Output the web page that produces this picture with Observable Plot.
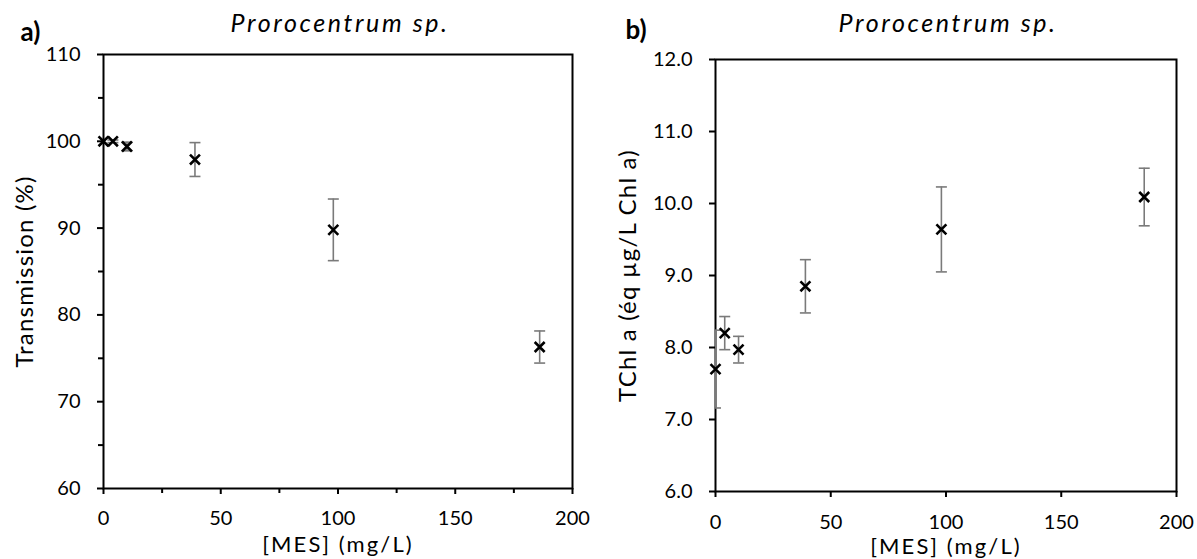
<!DOCTYPE html>
<html><head><meta charset="utf-8">
<script src="https://cdn.jsdelivr.net/npm/d3@7"></script>
<script src="https://cdn.jsdelivr.net/npm/@observablehq/plot@0.6"></script>
<style>
body{margin:0;background:#fff;}
#wrap{display:flex;width:1197px;height:559px;overflow:hidden;}
#wrap svg{font-family: Lato, "Open Sans", sans-serif; overflow:visible;}
</style></head><body><div id="wrap"></div>
<script>
// ---- data ----
const mes = [0, 4, 10, 39, 98, 186];
const transmission = [100, 100, 99.4, 97.9, 89.8, 76.3];
const transmissionErr = [0, 0.15, 0.5, 1.95, 3.55, 1.85];
const tchl = [7.70, 8.20, 7.97, 8.85, 9.64, 10.09];
const tchlErr = [0.54, 0.23, 0.185, 0.37, 0.59, 0.40];
const xTicks = [0, 50, 100, 150, 200];
const xMinorTicksA = [25, 75, 125, 175];
const yTicksA = [60, 70, 80, 90, 100, 110];
const yMinorTicksA = [65, 75, 85, 95, 105];
const yTicksB = [6, 7, 8, 9, 10, 11, 12];
const speciesTitle = "Prorocentrum sp.";
const xLabel = "[MES] (mg/L)";
const yLabelA = "Transmission (%)";
const yLabelB = "TChl a (éq µg/L Chl a)";

const capSymbol = {draw(ctx) { ctx.moveTo(-5.5, 0); ctx.lineTo(5.5, 0); }};
const errColor = "#7a7a7a";

function panel(o) {
  const rows = mes.map((x, i) => ({x, y: o.y[i], lo: o.y[i] - o.err[i], hi: o.y[i] + o.err[i], e: o.err[i]}));
  const eRows = rows.filter(d => d.e > 0);
  const marks = [
    Plot.frame({stroke: "black", strokeWidth: 2}),
    Plot.axisX({ticks: xTicks, tickSize: 6, tickPadding: o.xTickPad, fontSize: 20, strokeWidth: 2, label: null, tickFormat: d => String(d)}),
    Plot.axisY({ticks: o.yTicks, tickSize: 6, tickPadding: 17, fontSize: 20, strokeWidth: 2, label: null, tickFormat: o.fmt}),
  ];
  if (o.xMinor) marks.push(Plot.axisX({ticks: o.xMinor, tickSize: 5, strokeWidth: 2, text: null, label: null}));
  if (o.yMinor) marks.push(Plot.axisY({ticks: o.yMinor, tickSize: 5, strokeWidth: 2, text: null, label: null}));
  marks.push(
    Plot.ruleX(eRows, {x: "x", y1: "lo", y2: "hi", stroke: errColor, strokeWidth: 1.6, clip: true}),
    Plot.dot(eRows, {x: "x", y: "hi", symbol: capSymbol, r: 5, stroke: errColor, fill: "none", strokeWidth: 1.6, clip: true}),
    Plot.dot(eRows, {x: "x", y: "lo", symbol: capSymbol, r: 5, stroke: errColor, fill: "none", strokeWidth: 1.6, clip: true}),
    Plot.dot(rows, {x: "x", y: "y", symbol: "times", r: 4.6, stroke: "black", strokeWidth: 2.6}),
    Plot.text([speciesTitle], {frameAnchor: "top", dx: 2, dy: o.titleDy, lineAnchor: "bottom", textAnchor: "middle", fontSize: 25, fontStyle: "italic", fill: "black"}),
    Plot.text([o.tag], {frameAnchor: "top-left", dx: o.tagDx, dy: o.tagDy, lineAnchor: "bottom", textAnchor: "start", fontSize: 26, fontWeight: "bold", fill: "black"}),
    Plot.text([xLabel], {frameAnchor: "bottom", dy: o.xLabelDy, lineAnchor: "bottom", textAnchor: "middle", fontSize: 22, fill: "black"}),
    Plot.text([o.ylabel], {frameAnchor: "left", dx: o.yLabelDx, rotate: -90, lineAnchor: "middle", textAnchor: "middle", fontSize: 24, fill: "black"})
  );
  const svg = Plot.plot({
    width: o.width, height: 559,
    marginLeft: o.ml, marginRight: o.mr, marginTop: o.mt, marginBottom: o.mb,
    style: {fontFamily: "Lato, 'Open Sans', sans-serif", color: "black", background: "white", overflow: "visible"},
    x: {domain: [0, 200]},
    y: {domain: o.yDomain},
    marks
  });
  const spacing = new Map([[speciesTitle, "2.6px"], [xLabel, "2.1px"], [o.ylabel, "1.2px"]]);
  svg.querySelectorAll("text").forEach(t => {
    const v = spacing.get(t.textContent);
    if (v) { t.setAttribute("letter-spacing", v); t.style.letterSpacing = v; }
  });
  return svg;
}

const wrap = document.getElementById("wrap");
wrap.append(panel({
  y: transmission, err: transmissionErr, yDomain: [60, 110], yTicks: yTicksA, yMinor: yMinorTicksA, xMinor: xMinorTicksA,
  fmt: d => String(d), width: 598, ml: 103, mr: 26, mt: 54, mb: 71, ylabel: yLabelA,
  tag: "a)", tagDx: -83, tagDy: -14, titleDy: -23, xLabelDy: 63, yLabelDx: -78, xTickPad: 16
}));
wrap.append(panel({
  y: tchl, err: tchlErr, yDomain: [6, 12], yTicks: yTicksB, yMinor: null, xMinor: null,
  fmt: d => d.toFixed(1), width: 599, ml: 117, mr: 21, mt: 59, mb: 68, ylabel: yLabelB,
  tag: "b)", tagDx: -90, tagDy: -21, titleDy: -28, xLabelDy: 62, yLabelDx: -87, xTickPad: 17
}));
</script></body></html>
